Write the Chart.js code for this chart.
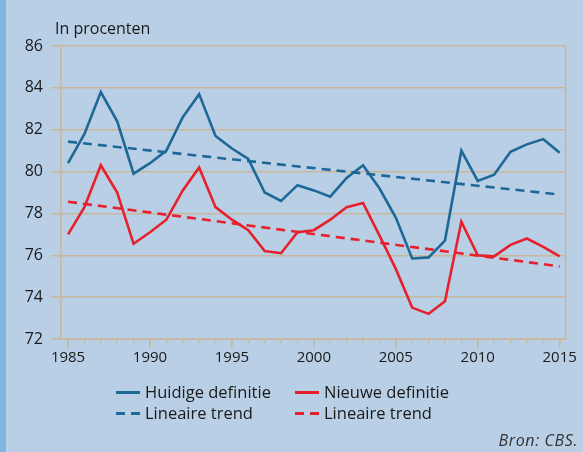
<!DOCTYPE html>
<html>
<head>
<meta charset="utf-8">
<script src="https://cdn.jsdelivr.net/npm/chart.js@4"></script>
<style>
  html, body { margin: 0; padding: 0; }
  body { width: 583px; height: 452px; background: #b8cfe6; position: relative; overflow: hidden; font-family: 'Open Sans', sans-serif; color: #1a1a1a; }
  #strip { position: absolute; left: 0; top: 0; width: 6px; height: 452px; background: #80b5e1; }
  #wrap { position: absolute; left: 0; top: 0; width: 583px; height: 452px; }
  #unit { position: absolute; left: 55px; top: 17px; font-size: 16px; }
  #bron { position: absolute; right: 5px; top: 429px; font-size: 16px; font-style: italic; color: #333; letter-spacing: 0.6px; }
  .leg { position: absolute; font-size: 16.5px; line-height: 20px; white-space: nowrap; }
  .leg span.ln { display: inline-block; width: 24px; height: 3px; vertical-align: middle; margin-right: 5px; position: relative; top: -1px; }
</style>
</head>
<body>
<div id="strip"></div>
<div id="wrap"><canvas id="c" width="583" height="452"></canvas></div>
<div id="unit">In procenten</div>
<div id="legend"></div>
<div id="bron">Bron: CBS.</div>
<script>
const years = [1985,1986,1987,1988,1989,1990,1991,1992,1993,1994,1995,1996,1997,1998,1999,2000,
  2001,2002,2003,2004,2005,2006,2007,2008,2009,2010,2011,2012,2013,2014,2015]
const huidige = [80.4,81.8,83.8,82.4,79.9,80.4,81.0,82.6,83.7,81.7,81.1,80.6,79.0,78.6,79.35,79.1,
  78.8,79.7,80.3,79.2,77.8,75.85,75.9,76.7,81.0,79.55,79.85,80.95,81.3,81.55,80.9]
const nieuwe = [77.0,78.3,80.3,79.0,76.55,77.1,77.7,79.1,80.2,78.3,77.7,77.2,76.2,76.1,77.1,77.2,
  77.7,78.3,78.5,76.95,75.35,73.5,73.2,73.8,77.6,76.0,75.95,76.5,76.8,76.4,75.95]
const trendYears = [1985, 2015]
const trendHuidige = [81.43, 78.9]
const trendNieuwe = [78.56, 75.47]
const yTicks = [72,74,76,78,80,82,84,86]

const blue = '#1d6896'
const red = '#e6202c'
const tan = '#c8b899'

const pts = (xs, ys) => xs.map((x, i) => ({ x: x, y: ys[i] }))

// right edge of the frame and longer ticks every 5 years
const frame = {
  id: 'frame',
  afterDraw(chart) {
    const { ctx, chartArea: a } = chart
    const xs = chart.scales.x
    ctx.save()
    ctx.strokeStyle = tan
    ctx.lineWidth = 1.5
    ctx.beginPath()
    ctx.moveTo(a.right, a.top)
    ctx.lineTo(a.right, a.bottom)
    years.filter(v => v % 5 === 0).forEach(v => {
      const px = xs.getPixelForValue(v)
      ctx.moveTo(px, a.bottom)
      ctx.lineTo(px, a.bottom + 9)
    })
    ctx.stroke()
    ctx.restore()
  }
}

new Chart(document.getElementById('c'), {
  type: 'line',
  data: {
    datasets: [
      { label: 'Huidige definitie', data: pts(years, huidige), borderColor: blue, borderWidth: 2.6, pointRadius: 0, tension: 0 },
      { label: 'Nieuwe definitie', data: pts(years, nieuwe), borderColor: red, borderWidth: 2.6, pointRadius: 0, tension: 0 },
      { label: 'Lineaire trend', data: pts(trendYears, trendHuidige), borderColor: blue, borderWidth: 2.6, borderDash: [9, 6], pointRadius: 0 },
      { label: 'Lineaire trend', data: pts(trendYears, trendNieuwe), borderColor: red, borderWidth: 2.6, borderDash: [9, 6], pointRadius: 0 }
    ]
  },
  options: {
    responsive: false,
    animation: false,
    layout: { padding: { top: 46, right: 15, left: 0, bottom: 0 } },
    plugins: { legend: { display: false }, tooltip: { enabled: false } },
    scales: {
      x: {
        type: 'linear',
        min: 1984.57,
        max: 2015.36,
        afterBuildTicks: s => { s.ticks = years.map(v => ({ value: v })) },
        afterFit: s => { s.height = 113 },
        grid: { drawOnChartArea: false, color: tan, lineWidth: 1.5, tickLength: 4 },
        border: { color: tan, width: 1.5 },
        ticks: {
          color: '#1a1a1a',
          font: { family: 'Open Sans', size: 15 },
          padding: 6,
          maxRotation: 0,
          autoSkip: false,
          callback: v => (v % 5 === 0 ? String(v) : '')
        }
      },
      y: {
        min: 72,
        max: 86,
        afterBuildTicks: s => { s.ticks = yTicks.map(v => ({ value: v })) },
        afterFit: s => { s.width = 61 },
        grid: { color: tan, lineWidth: 1.5, tickLength: 10 },
        border: { color: tan, width: 1.5 },
        ticks: { color: '#1a1a1a', font: { family: 'Open Sans', size: 16 }, padding: 8 }
      }
    }
  },
  plugins: [frame]
})

// legend, two columns in the order of the picture
const legendItems = [
  { text: 'Huidige definitie', color: blue, dashed: false, left: 116, top: 382 },
  { text: 'Nieuwe definitie', color: red, dashed: false, left: 295, top: 382 },
  { text: 'Lineaire trend', color: blue, dashed: true, left: 116, top: 403 },
  { text: 'Lineaire trend', color: red, dashed: true, left: 295, top: 403 }
]
const legend = document.getElementById('legend')
legendItems.forEach(it => {
  const d = document.createElement('div')
  d.className = 'leg'
  d.style.left = it.left + 'px'
  d.style.top = it.top + 'px'
  const bg = it.dashed
    ? 'linear-gradient(to right,' + it.color + ' 0 9px,transparent 9px 15px,' + it.color + ' 15px 24px)'
    : it.color
  d.innerHTML = '<span class="ln" style="background:' + bg + '"></span>' + it.text
  legend.appendChild(d)
})
</script>
</body>
</html>
